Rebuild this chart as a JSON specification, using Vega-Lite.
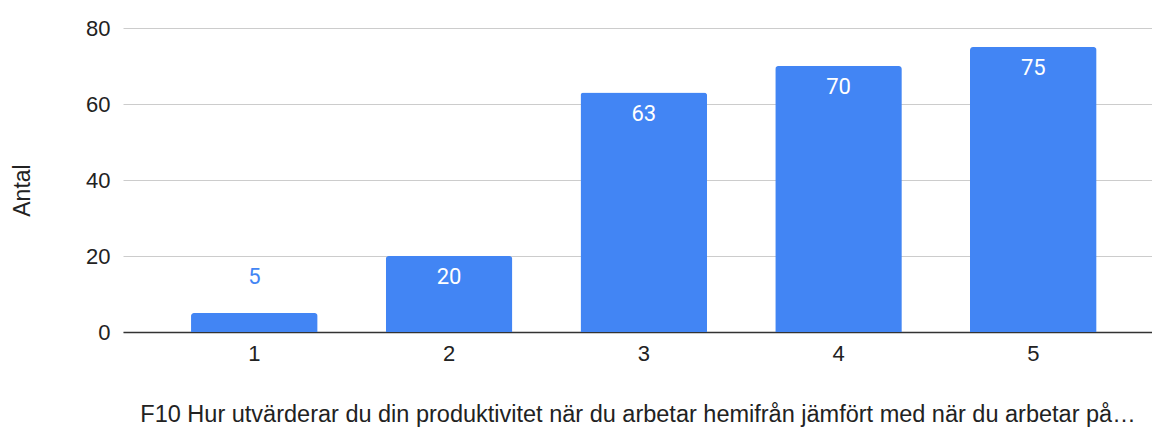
{
  "$schema": "https://vega.github.io/schema/vega-lite/v6.json",
  "width": 1029,
  "height": 304,
  "autosize": {"type": "none"},
  "padding": {"left": 123, "top": 28, "right": 0, "bottom": 95},
  "background": "white",
  "config": {"view": {"stroke": null}},
  "data": {"values": [
    {"svar": "1", "antal": 5},
    {"svar": "2", "antal": 20},
    {"svar": "3", "antal": 63},
    {"svar": "4", "antal": 70},
    {"svar": "5", "antal": 75}
  ]},
  "encoding": {
    "x": {
      "field": "svar", "type": "nominal",
      "scale": {"paddingInner": 0.35, "paddingOuter": 0.317, "align": 0.551},
      "axis": {
        "title": "F10 Hur utvärderar du din produktivitet när du arbetar hemifrån jämfört med när du arbetar på…",
        "labelAngle": 0, "labelFont": "Liberation Sans", "labelFontSize": 22, "labelColor": "#222222",
        "labelPadding": 11, "ticks": false, "domainColor": "#333333", "domainWidth": 1.5,
        "titleFont": "Liberation Sans", "titleFontSize": 23.5, "titleFontWeight": "normal", "titleColor": "#222222",
        "titleBaseline": "alphabetic", "titleY": 89, "titleLimit": 2000
      }
    },
    "y": {
      "field": "antal", "type": "quantitative",
      "scale": {"domain": [0, 80]},
      "axis": {
        "title": "Antal", "values": [0, 20, 40, 60, 80], "domain": false, "ticks": false,
        "labelFont": "Liberation Sans", "labelFontSize": 22, "labelColor": "#222222", "labelPadding": 13,
        "gridColor": "#cccccc", "gridWidth": 1,
        "titleFont": "Liberation Sans", "titleFontSize": 23, "titleFontWeight": "normal", "titleColor": "#222222",
        "titleX": -101, "titleY": 162, "titleBaseline": "middle", "titleAlign": "center"
      }
    }
  },
  "layer": [
    {"mark": {"type": "bar", "color": "#4285F4", "cornerRadiusTopLeft": 3, "cornerRadiusTopRight": 3}},
    {
      "transform": [{"filter": "datum.antal >= 10"}],
      "mark": {"type": "text", "color": "white", "font": "Roboto", "fontSize": 22, "baseline": "middle", "dy": 21},
      "encoding": {"text": {"field": "antal", "type": "quantitative"}}
    },
    {
      "transform": [{"filter": "datum.antal < 10"}],
      "mark": {"type": "text", "color": "#4285F4", "font": "Roboto", "fontSize": 22, "baseline": "middle", "dy": -36},
      "encoding": {"text": {"field": "antal", "type": "quantitative"}}
    }
  ]
}
